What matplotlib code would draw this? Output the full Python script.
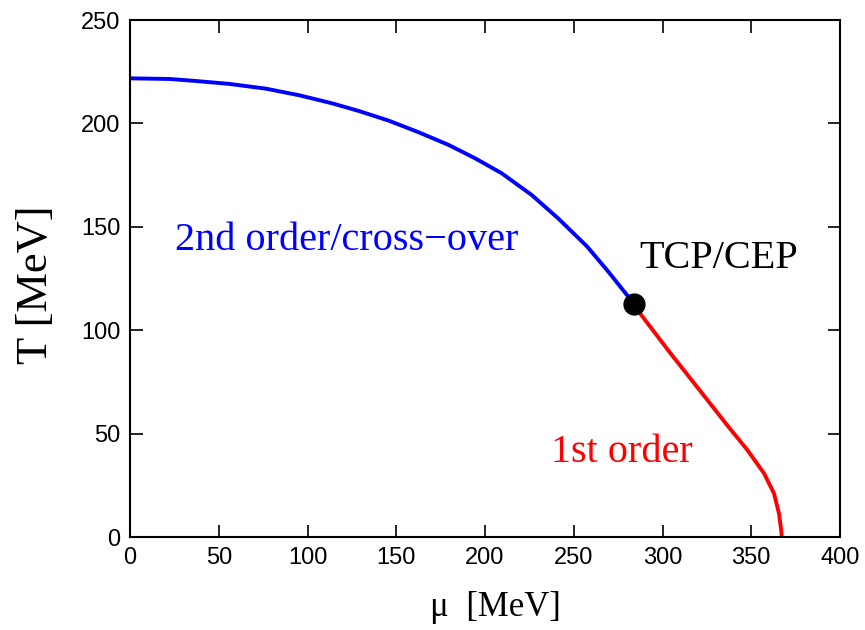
import matplotlib.pyplot as plt

# blue line: 2nd order / cross-over
mu_2nd = [0, 22.4, 37.4, 56.1, 76.7, 95.4, 114, 129, 145.9, 162.7, 179.5,
          194.5, 209.4, 226.3, 241.2, 257.5, 269.3, 278.6, 284.2]
T_2nd = [221.8, 221.5, 220.5, 219.1, 216.8, 213.6, 209.7, 206, 201.3, 195.7,
         189.6, 183.1, 175.9, 165.4, 154.1, 140.5, 128.5, 118.5, 112.5]

# red line: 1st order
mu_1st = [284.2, 288, 304.8, 323.5, 336.6, 347.8, 357.2, 362.8, 365.6, 366.9, 367.2]
T_1st = [112.5, 107.4, 88.5, 68.2, 53.9, 42.1, 30.8, 21.1, 11.5, 3.0, 0.0]

cep_mu = [284.2]
cep_T = [112.5]

x_ticks = [0, 50, 100, 150, 200, 250, 300, 350, 400]
y_ticks = [0, 50, 100, 150, 200, 250]

serif = 'Liberation Serif'
sans = 'Liberation Sans'

fig = plt.figure(figsize=(8.65, 6.3), dpi=100)
ax = fig.add_axes([0.1503, 0.1476, 0.8208, 0.8206])

ax.plot(mu_2nd, T_2nd, color='#0000ff', lw=2.8, solid_joinstyle='round')
ax.plot(mu_1st, T_1st, color='#ff0000', lw=2.8, solid_joinstyle='round',
        solid_capstyle='butt')
ax.plot(cep_mu, cep_T, 'o', color='black', ms=15, zorder=5)

ax.set_xlim(0, 400)
ax.set_ylim(0, 250)
ax.set_xticks(x_ticks)
ax.set_yticks(y_ticks)
ax.tick_params(direction='in', top=True, right=True, length=9, width=1.2,
               labelsize=17, pad=7)
for lab in ax.get_xticklabels() + ax.get_yticklabels():
    lab.set_family(sans)
for s in ax.spines.values():
    s.set_linewidth(1.5)

ax.set_xlabel('μ  [MeV]', family=serif, fontsize=25)
ax.set_ylabel('T [MeV]', family=serif, fontsize=32)
ax.xaxis.set_label_coords(0.515, -0.105)
ax.yaxis.set_label_coords(-0.104, 0.487)

ax.text(25.2, 138.8, '2nd order/cross−over', color='#0000ff', family=serif,
        fontsize=29, va='baseline')
ax.text(287, 130, 'TCP/CEP', color='black', family=serif,
        fontsize=29, va='baseline')
ax.text(237.2, 36.3, '1st order', color='#ff0000', family=serif,
        fontsize=29, va='baseline')

fig.savefig('out.png', dpi=100)
